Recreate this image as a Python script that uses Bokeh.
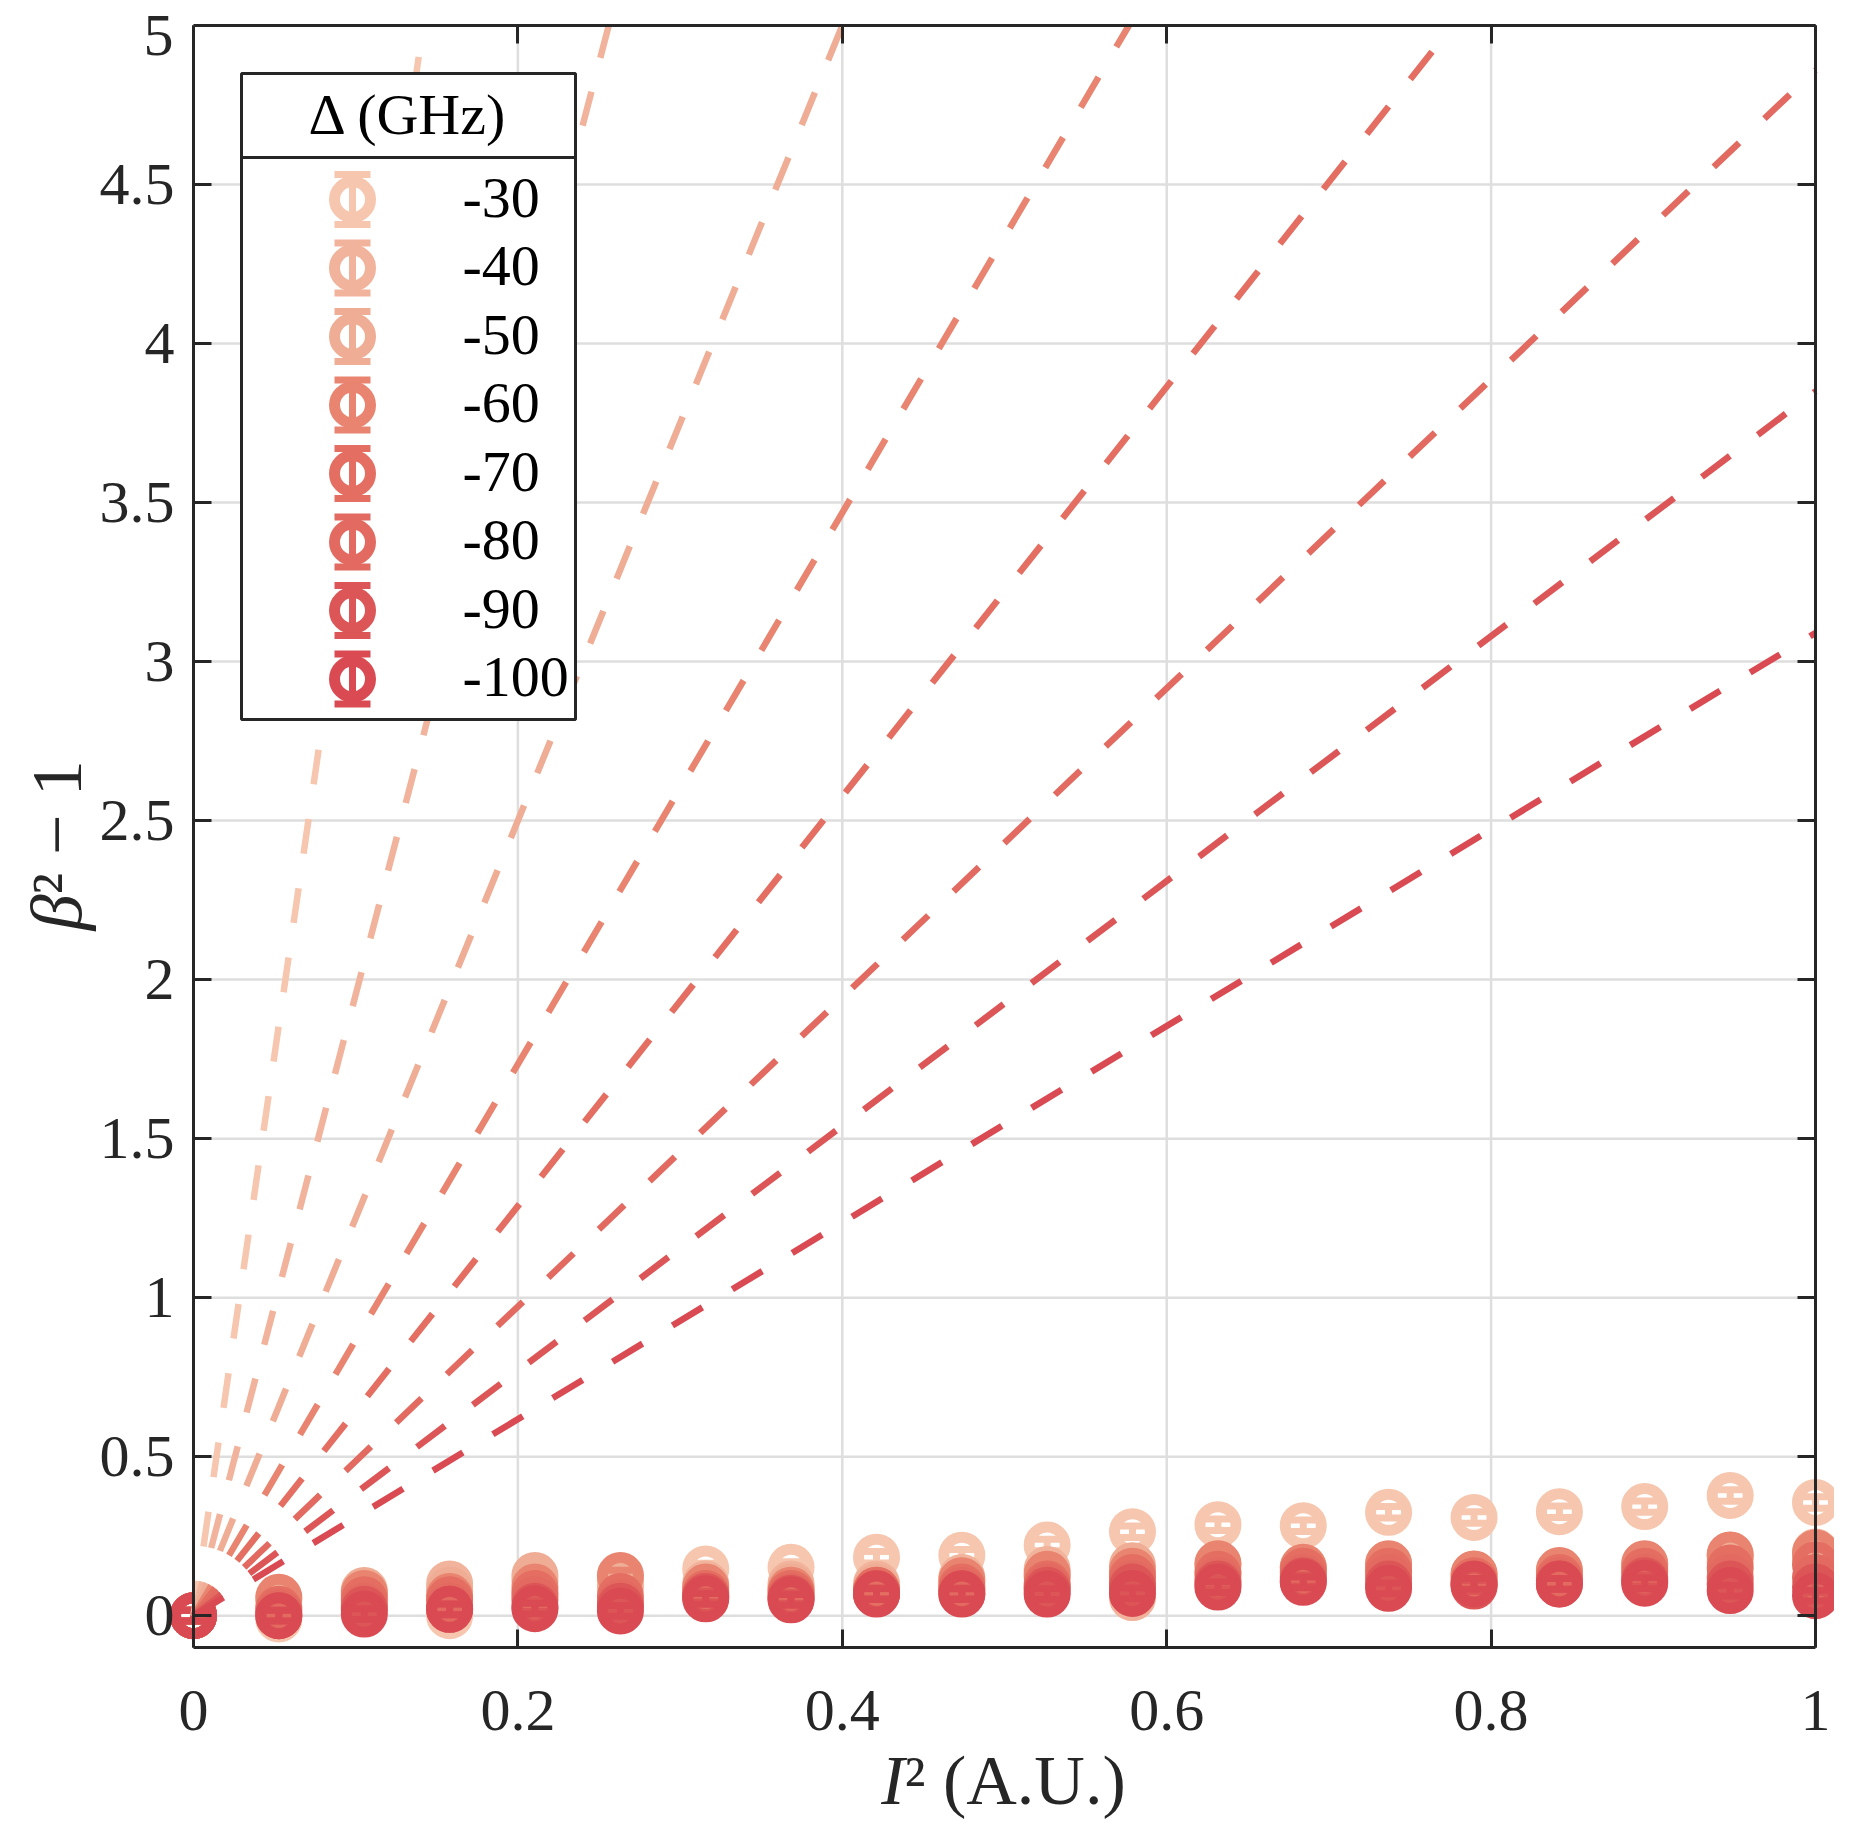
import numpy as np
from bokeh.plotting import figure
from bokeh.models import Range1d, LinearAxis, FixedTicker, Label, CustomJSTickFormatter
from bokeh.embed import file_html
from bokeh.resources import INLINE

# ---------------- data ----------------
x_vals = [0.0, 0.0526, 0.1053, 0.1579, 0.2105, 0.2632, 0.3158, 0.3684, 0.4211, 0.4737,
          0.5263, 0.5789, 0.6316, 0.6842, 0.7368, 0.7895, 0.8421, 0.8947, 0.9474, 1.0]

detunings = ["-30", "-40", "-50", "-60", "-70", "-80", "-90", "-100"]

y_m30 = [0.0, -0.01, 0.04, 0.0, 0.06, 0.12, 0.147, 0.152, 0.184, 0.19,
         0.222, 0.264, 0.286, 0.283, 0.325, 0.309, 0.327, 0.343, 0.378, 0.356]
y_m40 = [0.0, 0.05, 0.06, 0.10, 0.11, 0.11, 0.10, 0.10, 0.10, 0.12,
         0.145, 0.057, 0.16, 0.15, 0.16, 0.13, 0.14, 0.16, 0.19, 0.20]
y_m50 = [0.0, 0.03, 0.079, 0.08, 0.126, 0.09, 0.08, 0.09, 0.09, 0.10,
         0.12, 0.157, 0.14, 0.13, 0.15, 0.12, 0.13, 0.15, 0.17, 0.18]
y_m60 = [0.0, 0.058, 0.07, 0.06, 0.09, 0.126, 0.09, 0.08, 0.08, 0.11,
         0.13, 0.14, 0.163, 0.152, 0.163, 0.131, 0.142, 0.163, 0.191, 0.197]
y_m70 = [0.0, 0.02, 0.05, 0.05, 0.07, 0.06, 0.07, 0.07, 0.08, 0.09,
         0.10, 0.12, 0.13, 0.14, 0.14, 0.11, 0.12, 0.14, 0.15, 0.16]
y_m80 = [0.0, 0.01, 0.03, 0.03, 0.05, 0.04, 0.06, 0.06, 0.07, 0.08,
         0.09, 0.10, 0.11, 0.12, 0.12, 0.10, 0.11, 0.12, 0.12, 0.12]
y_m90 = [0.0, 0.0, 0.02, 0.02, 0.03, 0.03, 0.06, 0.055, 0.07, 0.07,
         0.08, 0.09, 0.10, 0.11, 0.10, 0.093, 0.10, 0.11, 0.10, 0.09]
y_m100 = [0.0, 0.0, 0.005, 0.02, 0.022, 0.015, 0.053, 0.05, 0.068, 0.068,
          0.068, 0.07, 0.09, 0.105, 0.086, 0.10, 0.10, 0.102, 0.079, 0.063]

series_y = [y_m30, y_m40, y_m50, y_m60, y_m70, y_m80, y_m90, y_m100]
series_err = [0.018, 0.017, 0.017, 0.017, 0.017, 0.017, 0.017, 0.017]

# dashed model lines: straight from the origin; value they reach at x = 1
fit_y_at_1 = [35.3, 19.53, 12.5, 8.67, 6.44, 4.86, 3.85, 3.09]

colors = ["#F6C6AE", "#F1B39B", "#EFAD95", "#E8846F", "#E46E62", "#E26A60", "#DD5657", "#DA4A52"]

x_ticks = [0, 0.2, 0.4, 0.6, 0.8, 1]
x_tick_labels = ["0", "0.2", "0.4", "0.6", "0.8", "1"]
y_ticks = [0, 0.5, 1, 1.5, 2, 2.5, 3, 3.5, 4, 4.5, 5]
y_tick_labels = ["0", "0.5", "1", "1.5", "2", "2.5", "3", "3.5", "4", "4.5", "5"]

# ---------------- layout (page pixels) ----------------
W, H = 1834, 1820
M = 8
BOX_L, BOX_R, BOX_T, BOX_B = 201, 1823, 33, 1655
X0, X1 = 0.0, 1.0
Y0, Y1 = -0.1, 5.0
PX_X = (BOX_R - BOX_L) / (X1 - X0)
PX_Y = (BOX_B - BOX_T) / (Y1 - Y0)


def px2x(px):
    return X0 + (px - BOX_L) / PX_X


def px2y(py):
    return Y1 - (py - BOX_T) / PX_Y


FONT = "Liberation Serif"
DARK = "#262626"
TICK_FS = "60px"
LEG_FS = "58px"
LABEL_FS = "70px"
YLABEL_FS = "72px"
GRID_C = "#DEDEDE"
Y_STANDOFF = 19

# the frame covers the whole canvas; the axes box is drawn with fixed-location axes
p = figure(width=W, height=H,
           x_range=Range1d(px2x(M), px2x(M + W)),
           y_range=Range1d(px2y(M + H), px2y(M)),
           output_backend="svg", toolbar_location=None,
           min_border_left=0, min_border_right=0, min_border_top=0, min_border_bottom=0)
p.outline_line_color = None
p.background_fill_color = "white"
p.border_fill_color = "white"
p.xgrid.visible = False
p.ygrid.visible = False

# grid lines limited to the axes box
p.segment(x0=[X0] * len(y_ticks), x1=[X1] * len(y_ticks), y0=y_ticks, y1=y_ticks,
          line_color=GRID_C, line_width=2.5, level="underlay")
p.segment(x0=x_ticks, x1=x_ticks, y0=[Y0] * len(x_ticks), y1=[Y1] * len(x_ticks),
          line_color=GRID_C, line_width=2.5, level="underlay")


def style_axis(ax, ticks, labels=None):
    ax.ticker = FixedTicker(ticks=ticks)
    ax.axis_line_color = DARK
    ax.axis_line_width = 3
    ax.major_tick_line_color = DARK
    ax.major_tick_line_width = 3
    ax.major_tick_in = 18
    ax.major_tick_out = 0
    ax.minor_tick_line_color = None
    ax.major_label_text_font = FONT
    ax.major_label_text_color = DARK
    if labels is not None:
        ax.major_label_overrides = {t: l for t, l in zip(ticks, labels)}
        ax.major_label_text_font_size = TICK_FS
    else:
        ax.formatter = CustomJSTickFormatter(code="return ''")
        ax.major_label_text_font_size = "1px"
        ax.major_label_standoff = 0


xax = p.xaxis[0]
style_axis(xax, x_ticks, x_tick_labels)
xax.fixed_location = Y0
xax.bounds = (X0, X1)
xax.major_label_standoff = 43

# the top-most y label sits at the canvas edge: it is drawn separately, nudged inward
yax = p.yaxis[0]
style_axis(yax, y_ticks[:-1], y_tick_labels[:-1])
yax.fixed_location = X0
yax.bounds = (Y0, Y1)
yax.major_label_standoff = Y_STANDOFF
p.add_layout(Label(x=px2x(BOX_L - Y_STANDOFF - 1), y=px2y(BOX_T + 10), text=y_tick_labels[-1],
                   text_font=FONT, text_font_size=TICK_FS, text_color=DARK,
                   text_align="right", text_baseline="middle"))

top_ax = LinearAxis(fixed_location=Y1)
style_axis(top_ax, x_ticks)
top_ax.bounds = (X0, X1)
p.add_layout(top_ax, "above")

right_ax = LinearAxis(fixed_location=X1)
style_axis(right_ax, y_ticks)
right_ax.bounds = (Y0, Y1)
p.add_layout(right_ax, "right")

# ---------------- error-bar markers ----------------
RING_SIZE = 36
RING_LW = 11
BAR_LW = 7
CAP_W = 36
CAP_H = 7


def draw_errmarker(xs, ys, es, color):
    xs = np.asarray(xs, dtype=float)
    ys = np.asarray(ys, dtype=float)
    es = np.asarray(es, dtype=float)
    p.scatter(xs, ys, marker="circle", size=RING_SIZE, fill_color=None,
              line_color=color, line_width=RING_LW)
    p.segment(x0=xs, y0=ys - es, x1=xs, y1=ys + es, line_color=color,
              line_width=BAR_LW, line_cap="butt")
    p.rect(x=np.concatenate([xs, xs]), y=np.concatenate([ys + es, ys - es]),
           width=CAP_W, height=CAP_H, width_units="screen", height_units="screen",
           fill_color=color, line_color=None)


for ys, e, c in zip(series_y, series_err, colors):
    draw_errmarker(x_vals, ys, [e] * len(x_vals), c)

# ---------------- dashed model lines (cut at the top of the axes box) ----------------
for y_end, c in zip(fit_y_at_1, colors):
    if y_end > Y1:
        xs_line, ys_line = [0.0, X1 * Y1 / y_end], [0.0, Y1]
    else:
        xs_line, ys_line = [0.0, X1], [0.0, y_end]
    p.line(xs_line, ys_line, line_color=c, line_width=6.5,
           line_dash="35 35", line_cap="butt")

# ---------------- legend ----------------
LEG_L, LEG_R, LEG_T, LEG_B = 249, 583, 81, 727
LEG_SEP = 165
LEG_ICON_X = 360
LEG_TEXT_X = 470
LEG_Y0 = 207
LEG_DY = 68.5
LEG_ERR_PX = 25

p.quad(left=[px2x(LEG_L)], right=[px2x(LEG_R)], top=[px2y(LEG_T)], bottom=[px2y(LEG_B)],
       fill_color="white", line_color=DARK, line_width=3)
p.segment(x0=[px2x(LEG_L)], x1=[px2x(LEG_R)], y0=[px2y(LEG_SEP)], y1=[px2y(LEG_SEP)],
          line_color=DARK, line_width=3)
p.add_layout(Label(x=px2x((LEG_L + LEG_R) / 2), y=px2y(122), text="Δ (GHz)",
                   text_font=FONT, text_font_size=LEG_FS, text_color="black",
                   text_align="center", text_baseline="middle"))

for i, (lab, c) in enumerate(zip(detunings, colors)):
    py = LEG_Y0 + i * LEG_DY
    draw_errmarker([px2x(LEG_ICON_X)], [px2y(py)], [LEG_ERR_PX / PX_Y], c)
    p.add_layout(Label(x=px2x(LEG_TEXT_X), y=px2y(py - 2), text=lab,
                       text_font=FONT, text_font_size=LEG_FS, text_color="black",
                       text_align="left", text_baseline="middle"))

# ---------------- axis titles ----------------
XT_JOIN, XT_MID = 912, 1788
p.add_layout(Label(x=px2x(XT_JOIN), y=px2y(XT_MID), text="I", text_font=FONT,
                   text_font_style="italic", text_font_size=LABEL_FS, text_color=DARK,
                   text_align="right", text_baseline="middle"))
p.add_layout(Label(x=px2x(XT_JOIN), y=px2y(XT_MID), text="² (A.U.)", text_font=FONT,
                   text_font_size=LABEL_FS, text_color=DARK,
                   text_align="left", text_baseline="middle"))

YT_MID, YT_JOIN = 64, 902
p.add_layout(Label(x=px2x(YT_MID), y=px2y(YT_JOIN), text="β", text_font=FONT,
                   text_font_style="italic", text_font_size=YLABEL_FS, text_color=DARK,
                   text_align="right", text_baseline="middle", angle=np.pi / 2))
p.add_layout(Label(x=px2x(YT_MID), y=px2y(YT_JOIN), text="² − 1", text_font=FONT,
                   text_font_size=YLABEL_FS, text_color=DARK,
                   text_align="left", text_baseline="middle", angle=np.pi / 2))

open("out.html", "w").write(file_html(p, INLINE))
